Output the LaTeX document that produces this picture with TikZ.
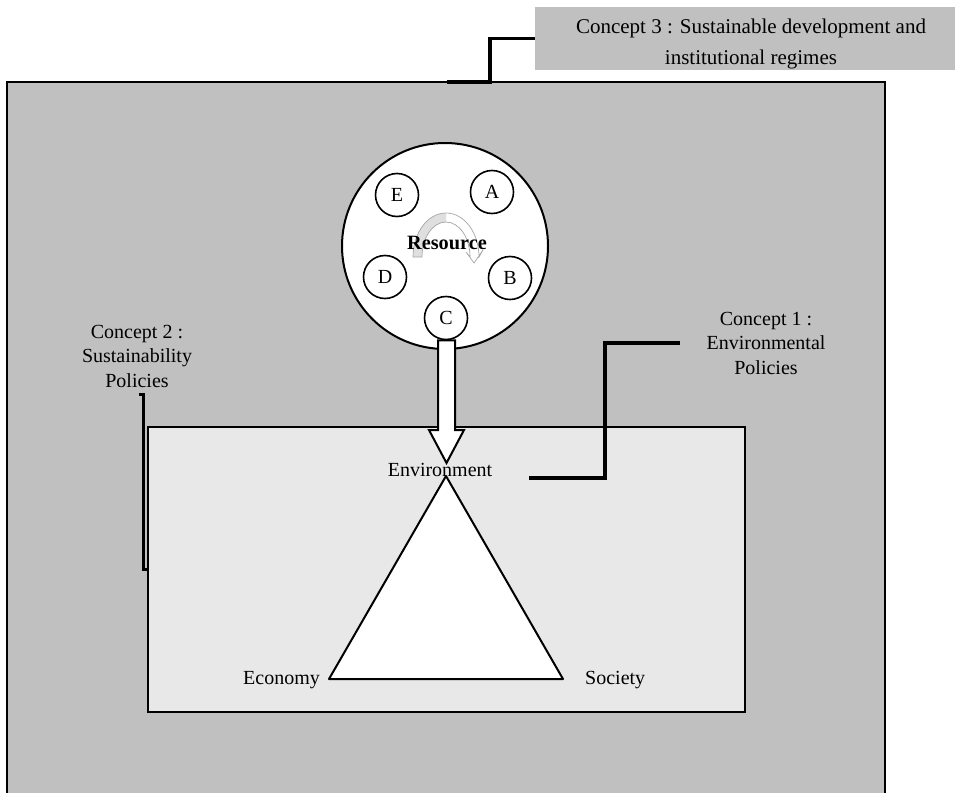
\documentclass[tikz,border=0pt]{standalone}
\usepackage{fontspec}
\setmainfont{Liberation Serif}
\definecolor{panelgray}{HTML}{C0C0C0}
\definecolor{lightpanel}{HTML}{E8E8E8}
\begin{document}
\begin{tikzpicture}[x=1pt, y=-1pt,
	concept/.style={align=center, inner sep=0pt, font=\fontsize{20}{24.5}\selectfont},
	linkline/.style={line width=3.5pt},
	part/.style={circle, draw, line width=1.6pt, fill=white, minimum size=43pt, inner sep=0pt, font=\fontsize{20}{24}\selectfont}]
	\useasboundingbox (0,0) rectangle (955,792);
	\fill[white] (0,0) rectangle (955,792);

	% regimes frame and policy frame
	\draw[fill=panelgray, line width=2.6pt] (7,82) rectangle (885,830);
	\draw[fill=lightpanel, line width=2pt] (148,427) rectangle (745,712);

	\node[fill=panelgray, minimum width=420pt, minimum height=63pt] (c3box) at (745,38.5) {};
	\node[concept, font=\fontsize{21}{31}\selectfont] (c3) at (751,44) {Concept 3 : Sustainable development and\\institutional regimes};
	\coordinate (c3bend) at (490,82);
	\coordinate (c3foot) at (447,82);
	\draw[linkline] (c3box.west) -| (c3bend) -- (c3foot);

	% resource wheel
	\node[circle, draw, line width=2pt, fill=white, minimum size=206pt] (resource) at (445,246) {};
	\begin{scope}
		\fill[white] (413,257) arc[start angle=180, end angle=0, x radius=33pt, y radius=44pt] -- (470,257) arc[start angle=0, end angle=180, x radius=24pt, y radius=35pt] -- cycle;
		\clip (400,200) rectangle (446,262);
		\fill[gray!25] (413,257) arc[start angle=180, end angle=0, x radius=33pt, y radius=44pt] -- (470,257) arc[start angle=0, end angle=180, x radius=24pt, y radius=35pt] -- cycle;
	\end{scope}
	\draw[gray!70, line width=0.7pt] (413,257) arc[start angle=180, end angle=0, x radius=33pt, y radius=44pt] -- (483,250) -- (474,263) -- (466,252) -- (470,257) arc[start angle=0, end angle=180, x radius=24pt, y radius=35pt] -- cycle;
	\node[font=\fontsize{20.3}{24}\selectfont\bfseries, inner sep=0pt] (restext) at (447,243) {Resource};

	\node[part] (partA) at (492,192) {A};
	\node[part] (partB) at (510,278) {B};
	\node[part] (partC) at (446,318) {C};
	\node[part] (partD) at (385,277) {D};
	\node[part] (partE) at (397,195) {E};

	\draw[fill=white, line width=2pt] (partC.south -| 438,0) -- (438,430) -- (429,430) -- (446.5,463) -- (464,430) -- (455,430) -- (partC.south -| 455,0) -- cycle;

	% pillars
	\coordinate (envtop) at (446,476);
	\coordinate (ecocorner) at (329,679);
	\coordinate (soccorner) at (563,679);
	\draw[fill=white, line width=2pt, line join=round] (envtop) -- (soccorner) -- (ecocorner) -- cycle;
	\node[concept] (environment) at (440,470) {Environment};
	\node[concept, anchor=base east] (economy) at (320,684) {Economy};
	\node[concept, anchor=base west] (society) at (585,684) {Society};

	% concept labels
	\node[concept] (c2) at (137,356) {Concept 2 :\\Sustainability\\Policies};
	\coordinate (c2top) at (139,394);
	\coordinate (c2foot) at (148,569);
	\draw[line width=3pt] (c2top) -- (143,394) -- (143,569) -- (c2foot);

	\node[concept] (c1) at (766,343) {Concept 1 :\\Environmental\\Policies};
	\coordinate (c1start) at (529,478);
	\coordinate (c1end) at (680,343);
	\draw[linkline] (c1start) -| (605,343) -- (c1end);
\end{tikzpicture}
\end{document}
